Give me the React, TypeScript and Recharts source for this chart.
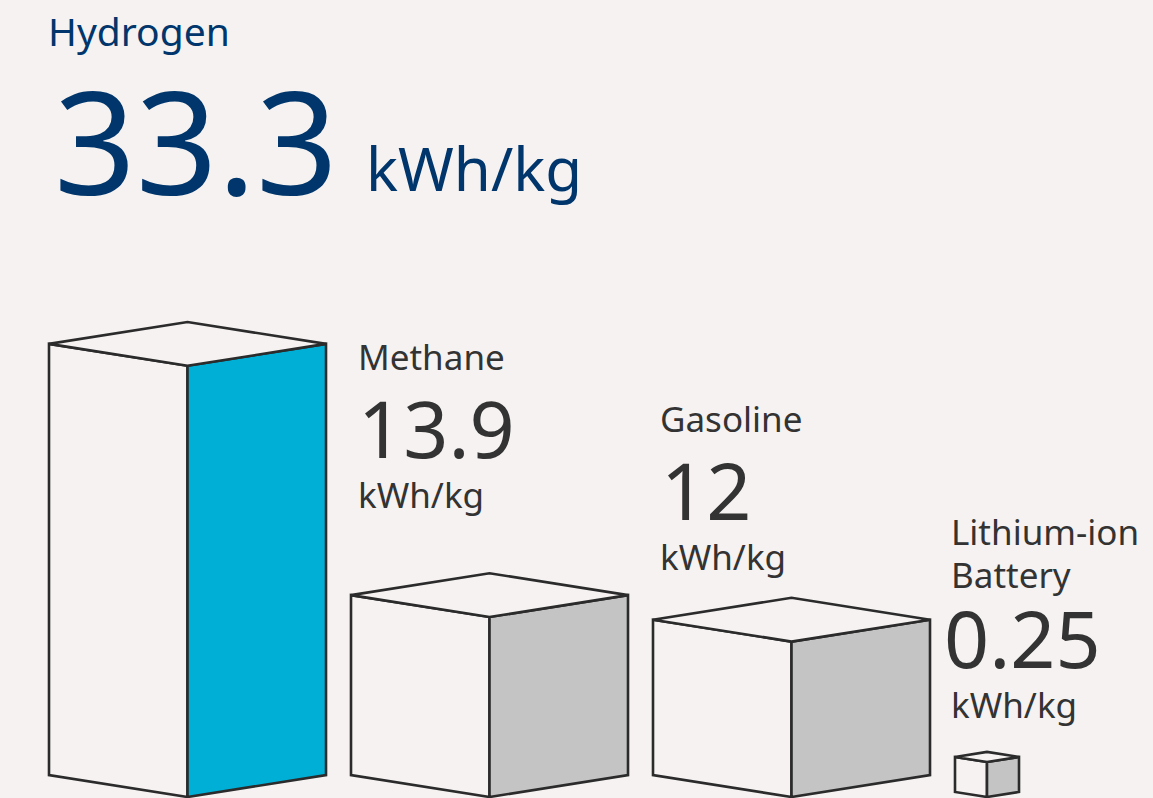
import React from 'react';
import { BarChart, Bar, XAxis, YAxis } from 'recharts';

// ---- data ----
const categories = ['Hydrogen', 'Methane', 'Gasoline', 'Lithium-ion Battery'];
const energyDensity = [33.3, 13.9, 12, 0.25];
const valueLabels = ['33.3', '13.9', '12', '0.25'];
const unitLabel = 'kWh/kg';

const data = categories.map((name, i) => ({
  name,
  value: energyDensity[i],
  label: valueLabels[i],
  idx: i,
}));

// ---- styles ----
const BG = '#F5F2F1';
const STROKE = '#2B2B2B';
const NAVY = '#00366B';
const GRAY_TEXT = '#333333';
const SIDE_COLORS = ['#00AFD6', '#C4C4C4', '#C4C4C4', '#C4C4C4'];
const FONT = '"Noto Sans", "Open Sans", sans-serif';

// label layout (screen positions, per category)
const LABEL_LAYOUT = [
  { hero: true, dx: -1, numDx: 6, nameY: 46, numY: 195, unitDx: 318, unitY: 191 },
  { dx: 7, numDx: 0, nameY: 370, numY: 458, unitY: 508 },
  { dx: 7, numDx: 1, nameY: 432, numY: 520, unitY: 570 },
  { dx: -4, numDx: -7, nameY: 545, lineGap: 43, numY: 668, unitY: 718, wrap: true },
];

const BoxShape = (props: any) => {
  const { x, y, width, height, payload } = props;
  const i = payload?.idx ?? props.index ?? 0;
  const baseY = y + height;
  const tiny = height < 20;
  const fw = tiny ? 32 : width / 2;
  const h = tiny ? 35 : height;
  const d = fw * 0.158;
  const x0 = x;
  const x1 = x + fw;
  const x2 = x + 2 * fw;
  const top = baseY - h;
  const leftFace = `M${x0},${top - d} L${x1},${top} L${x1},${baseY} L${x0},${baseY - d} Z`;
  const rightFace = `M${x1},${top} L${x2},${top - d} L${x2},${baseY - d} L${x1},${baseY} Z`;
  const lid = `M${x0},${top - d} L${x1},${top - 2 * d} L${x2},${top - d} L${x1},${top} Z`;

  const lay = LABEL_LAYOUT[i];
  const tx = x + lay.dx;
  const name: string = payload?.name ?? '';
  const label: string = payload?.label ?? '';

  let labels: React.ReactNode;
  if (lay.hero) {
    labels = (
      <g fontFamily={FONT} fill={NAVY}>
        <text x={tx} y={lay.nameY} fontSize={39}>{name}</text>
        <text x={tx + lay.numDx} y={lay.numY} fontSize={143}>{label}</text>
        <text x={tx + (lay.unitDx ?? 0)} y={lay.unitY} fontSize={60}>{unitLabel}</text>
      </g>
    );
  } else {
    const lines = lay.wrap ? [name.slice(0, name.indexOf(' ')), name.slice(name.indexOf(' ') + 1)] : [name];
    labels = (
      <g fontFamily={FONT} fill={GRAY_TEXT}>
        {lines.map((ln, k) => (
          <text key={k} x={tx} y={lay.nameY + k * (lay.lineGap ?? 0)} fontSize={35}>{ln}</text>
        ))}
        <text x={tx + lay.numDx} y={lay.numY} fontSize={79}>{label}</text>
        <text x={tx} y={lay.unitY} fontSize={35}>{unitLabel}</text>
      </g>
    );
  }

  return (
    <g>
      <path d={leftFace} fill={BG} stroke={STROKE} strokeWidth={2.6} strokeLinejoin="miter" />
      <path d={rightFace} fill={SIDE_COLORS[i]} stroke={STROKE} strokeWidth={2.6} strokeLinejoin="miter" />
      <path d={lid} fill={BG} stroke={STROKE} strokeWidth={2.6} strokeLinejoin="miter" />
      {labels}
    </g>
  );
};

export default function App() {
  return (
    <div
      style={{
        position: 'absolute',
        left: 0,
        top: 0,
        width: 1153,
        height: 798,
        overflow: 'hidden',
        background: BG,
      }}
    >
      <BarChart
        width={1244}
        height={798}
        data={data}
        margin={{ top: 279, right: 0, bottom: 1, left: 36 }}
        barSize={277}
      >
        <XAxis dataKey="name" hide />
        <YAxis hide domain={[0, 40]} />
        <Bar dataKey="value" shape={BoxShape} isAnimationActive={false} />
      </BarChart>
    </div>
  );
}
